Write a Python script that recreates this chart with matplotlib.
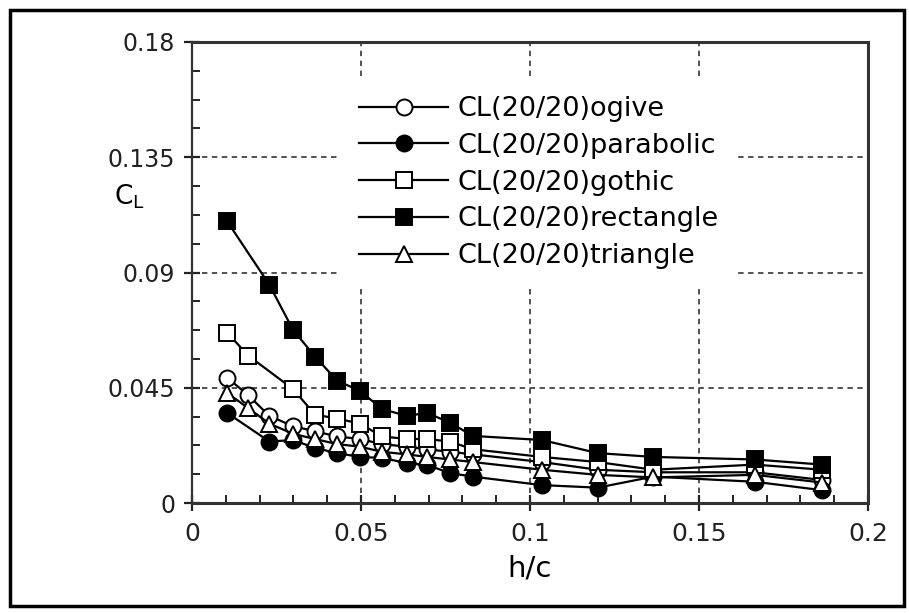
import numpy as np
import matplotlib.pyplot as plt
from matplotlib.patches import Rectangle
from matplotlib.ticker import MultipleLocator


##### Data: lift coefficient vs ground clearance

hc_ogive = [0.0104, 0.0167, 0.0229, 0.0299, 0.0364, 0.0429, 0.0497, 0.0562, 0.0636,
            0.0695, 0.0763, 0.0831, 0.1035, 0.12, 0.1365, 0.1665, 0.1865]
cl_ogive = [0.049, 0.042, 0.034, 0.030, 0.028, 0.026, 0.025, 0.023, 0.022,
            0.021, 0.020, 0.019, 0.016, 0.013, 0.012, 0.012, 0.009]

hc_parabolic = [0.0104, 0.0229, 0.0299, 0.0364, 0.0429, 0.0497, 0.0562, 0.0636,
                0.0695, 0.0763, 0.0831, 0.1035, 0.12, 0.1365, 0.1665, 0.1865]
cl_parabolic = [0.0352, 0.024, 0.0246, 0.0215, 0.0195, 0.018, 0.0176, 0.0156,
                0.0149, 0.0117, 0.0103, 0.007, 0.006, 0.0103, 0.0083, 0.005]

hc_gothic = [0.0104, 0.0167, 0.0299, 0.0364, 0.0429, 0.0497, 0.0562, 0.0636,
             0.0695, 0.0763, 0.0831, 0.1035, 0.12, 0.1365, 0.1665, 0.1865]
cl_gothic = [0.0665, 0.0575, 0.0445, 0.0345, 0.033, 0.031, 0.026, 0.025,
             0.025, 0.024, 0.021, 0.018, 0.016, 0.013, 0.015, 0.013]

hc_rectangle = [0.0104, 0.0229, 0.0299, 0.0364, 0.0429, 0.0497, 0.0562, 0.0636,
                0.0695, 0.0763, 0.0831, 0.1035, 0.12, 0.1365, 0.1665, 0.1865]
cl_rectangle = [0.110, 0.0852, 0.0676, 0.0572, 0.0478, 0.0438, 0.0367, 0.034,
                0.0352, 0.0314, 0.0262, 0.0246, 0.0195, 0.018, 0.017, 0.015]

hc_triangle = [0.0104, 0.0167, 0.0229, 0.0299, 0.0364, 0.0429, 0.0497, 0.0562, 0.0636,
               0.0695, 0.0763, 0.0831, 0.1035, 0.12, 0.1365, 0.1665, 0.1865]
cl_triangle = [0.043, 0.037, 0.031, 0.027, 0.025, 0.023, 0.022, 0.020, 0.019,
               0.018, 0.017, 0.016, 0.013, 0.011, 0.010, 0.011, 0.008]

x_ticks = [0, 0.05, 0.1, 0.15, 0.2]
x_ticklabels = ["0", "0.05", "0.1", "0.15", "0.2"]
y_ticks = [0, 0.045, 0.09, 0.135, 0.18]
y_ticklabels = ["0", "0.045", "0.09", "0.135", "0.18"]


##### Figure and axes

fig = plt.figure(figsize=(9.09, 6.13), dpi=100)
ax = fig.add_axes([0.2112, 0.1794, 0.7437, 0.7521])

series = [
    (hc_ogive, cl_ogive, "o", "white", "CL(20/20)ogive"),
    (hc_parabolic, cl_parabolic, "o", "black", "CL(20/20)parabolic"),
    (hc_gothic, cl_gothic, "s", "white", "CL(20/20)gothic"),
    (hc_rectangle, cl_rectangle, "s", "black", "CL(20/20)rectangle"),
    (hc_triangle, cl_triangle, "^", "white", "CL(20/20)triangle"),
]

for hc, cl, mk, face, name in series:
    ax.plot(hc, cl, color="black", lw=1.6, marker=mk, markersize=11.5,
            markerfacecolor=face, markeredgecolor="black", markeredgewidth=1.4,
            label=name, zorder=3)

ax.set_xlim(0, 0.2)
ax.set_ylim(0, 0.18)
ax.set_xticks(x_ticks)
ax.set_xticklabels(x_ticklabels)
ax.set_yticks(y_ticks)
ax.set_yticklabels(y_ticklabels)
ax.xaxis.set_minor_locator(MultipleLocator(0.01))
ax.yaxis.set_minor_locator(MultipleLocator(0.01125))

ax.tick_params(which="major", direction="inout", length=12, width=1.6,
               top=False, right=False, labelsize=17, pad=6, colors="#222222")
ax.tick_params(which="minor", direction="in", length=6, width=1.4,
               top=False, right=False, colors="#222222")
ax.tick_params(axis="x", which="major", labelsize=18, pad=8)

for side in ["top", "right", "bottom", "left"]:
    ax.spines[side].set_linewidth(2.2)
    ax.spines[side].set_color("#333333")
ax.spines["left"].set_linewidth(1.6)

ax.grid(True, which="major", color="#444444", linestyle=(0, (3, 2.5)), lw=1.3)
ax.set_axisbelow(True)

ax.set_xlabel("h/c", fontsize=21, labelpad=6)
ax.text(-0.115, 0.665, r"C$_\mathregular{L}$", transform=ax.transAxes,
        fontsize=19, ha="left", va="center")

leg = ax.legend(loc="upper left", bbox_to_anchor=(0.219, 0.924), fontsize=19.5,
                frameon=True, fancybox=False, edgecolor="none", facecolor="white",
                framealpha=1, handlelength=3.3, handletextpad=0.35,
                labelspacing=0.4, borderpad=0.7, borderaxespad=0)
leg.set_zorder(5)

# frame round the whole figure
fig.patches.append(Rectangle((0.011, 0.012), 0.983, 0.972, transform=fig.transFigure,
                             fill=False, edgecolor="black", lw=2.5))

fig.savefig("out.png", dpi=100)
